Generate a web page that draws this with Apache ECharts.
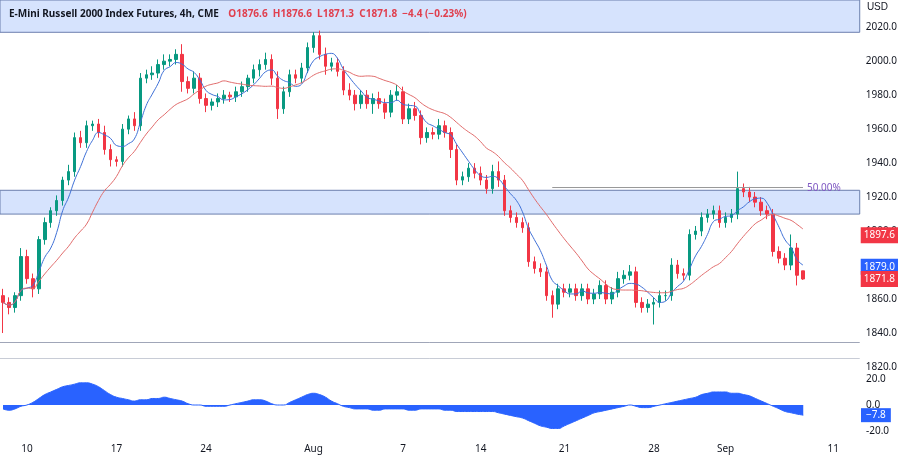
<!DOCTYPE html>
<html style="height: 100%">
<head>
  <meta charset="utf-8">
  <title>E-Mini Russell 2000 Index Futures, 4h</title>
</head>
<body style="height: 100%; margin: 0">
  <div id="container" style="height: 100%"></div>
  <script src="https://cdn.jsdelivr.net/npm/echarts@6/dist/echarts.min.js"></script>
  <script type="text/javascript">
    // closes per bar (roughly two 4h bars merged per candle)
    var closes = [1858,1855,1862,1885,1872,1866,1895,1905,1912,1918,
      1930,1935,1955,1952,1962,1963,1958,1948,1942,1941,
      1960,1966,1962,1990,1992,1993,1998,2000,2001,2004,
      1988,1984,1990,1978,1974,1976,1978,1980,1979,1982,
      1985,1990,1995,1998,2001,1990,1972,1982,1992,1990,
      1996,2008,2015,2004,1997,1999,1994,1983,1980,1975,
      1980,1975,1978,1975,1970,1980,1982,1966,1972,1968,
      1955,1958,1957,1962,1958,1948,1930,1932,1937,1934,
      1930,1925,1935,1930,1912,1908,1905,1902,1882,1878,
      1876,1862,1857,1866,1864,1866,1862,1866,1860,1863,
      1868,1860,1864,1872,1874,1876,1858,1855,1857,1858,
      1862,1862,1880,1875,1874,1898,1900,1908,1910,1912,
      1905,1908,1910,1925,1923,1920,1917,1912,1910,1888,
      1884,1880,1890,1874,1871.8];
    var firstOpen = 1862;
    // wick lengths above / below body
    var upWick = [4,3,2,5,4,3,2,3,2,3, 2,4,3,4,3,2,3,4,3,2, 3,2,4,3,3,4,3,4,3,3,
      6,3,4,3,3,2,3,3,2,3, 3,2,3,3,4,3,4,3,3,3, 3,3,2,3,4,3,3,3,4,3,
      3,3,3,4,3,3,4,3,3,4, 3,3,3,4,3,3,3,3,3,3, 4,3,4,6,3,3,3,3,3,3,
      3,3,3,3,3,3,3,3,3,3, 3,3,3,4,3,4,3,3,3,3, 3,3,4,3,3,3,3,3,3,3,
      3,3,3,10,3,3,3,3,3,3, 3,3,8,3,0];
    var dnWick = [18,4,3,3,3,5,3,3,3,3, 3,3,3,3,3,3,3,3,4,3, 3,3,3,3,3,3,3,3,3,3,
      6,3,3,3,4,3,3,3,3,3, 3,3,3,4,3,4,6,3,3,3, 3,3,3,3,5,3,3,3,3,4,
      3,3,6,3,4,3,3,3,3,3, 4,3,3,3,3,5,3,3,3,3, 3,3,3,4,3,3,3,3,3,3,
      3,3,8,3,3,3,3,3,3,3, 3,3,3,3,3,3,3,3,3,12, 3,3,3,3,3,3,3,3,3,3,
      3,3,3,3,3,3,3,3,3,3, 3,3,3,6,0.5];
    var osc = [-3,-4,-3,-1,0, 2,5,8,10,12, 14,15,16,17,17,16,14,
      11,8,6,5,4,3, 4,4,5,5,6,5,4, 3,1,0,0,-1,-1, -1,-1,0,1,2,3,
      4,4,3,1,0, 0,2,4,6,8,9,8, 6,3,1,-1,-2, -3,-3,-3,-4,-4,-3,-3,-3,
      -3,-4,-4,-3,-3,-3,-3,-4,-4, -5,-5,-5,-5,-5,-5,-5,-6,
      -7,-8,-9,-10,-12,-14,-16,-17,-18,-18, -16,-14,-12,-10,-8,-6,-5,-4,-3,-2,
      -1,0,-1,-2,-2,-1,0, 1,2,3,4,5,6,8, 9,10,10,10,9,9,8,7,5,
      3,1,-1,-3,-5,-6,-7,-7.8];
    var tickIdx = [4,19,34,52,67,80,94,109,121,139];
    var tickText = ['10','17','24','Aug','7','14','21','28','Sep','11'];
    var totalSlots = 144;

    var cats = [];
    for (var i = 0; i < totalSlots; i++) {
      var k = tickIdx.indexOf(i);
      cats.push(k >= 0 ? tickText[k] : 'b' + i);
    }
    var ohlc = [];
    for (var i = 0; i < closes.length; i++) {
      var o = i === 0 ? firstOpen : closes[i - 1];
      if (i === closes.length - 1) o = 1876.6;
      var c = closes[i];
      ohlc.push([o, c, Math.min(o, c) - dnWick[i], Math.max(o, c) + upWick[i]]);
    }
    function sma(n) {
      var out = [];
      for (var i = 0; i < closes.length; i++) {
        var m = Math.min(n, i + 1), s = 0;
        for (var j = i - m + 1; j <= i; j++) s += closes[j];
        out.push(+(s / m).toFixed(1));
      }
      return out;
    }
    var fast = sma(5), slow = sma(15);

    var UP = '#089981', DN = '#f23645', ZONE = 'rgba(200,218,252,0.75)', ZLINE = '#6b7fae';
    function priceTag(v, col) {
      return { yAxis: v, lineStyle: { width: 0, color: 'rgba(0,0,0,0)' },
        label: { show: true, position: 'end', formatter: v.toFixed(1), color: '#fff', backgroundColor: col,
          padding: [3, 3], fontSize: 10, distance: 1 } };
    }
    var dom = document.getElementById('container');
    var myChart = echarts.init(dom);
    var option = {
      animation: false,
      textStyle: { fontFamily: 'Noto Sans' },
      title: {
        left: 4, top: 0,
        text: '{a|E-Mini Russell 2000 Index Futures, 4h, CME}  {r|O1876.6  H1876.6  L1871.3  C1871.8  −4.4 (−0.23%)}',
        textStyle: { rich: { a: { fontSize: 10, color: '#131722' }, r: { fontSize: 10, color: '#e0404f' } } }
      },
      graphic: [{ type: 'text', right: 12, top: 2, style: { text: 'USD', fontSize: 10, fill: '#131722' } }],
      grid: [
        { left: 0, right: 40, top: 0, height: 367 },
        { left: 0, right: 40, top: 375, height: 60 }
      ],
      xAxis: [
        { type: 'category', data: cats, gridIndex: 0, boundaryGap: true, axisLine: { show: false }, axisTick: { show: false }, axisLabel: { show: false } },
        { type: 'category', data: cats, gridIndex: 1, boundaryGap: true, axisLine: { show: false }, axisTick: { show: false },
          axisLabel: { interval: 0, color: '#131722', fontSize: 10, margin: 9, formatter: function (v) { return v.charAt(0) === 'b' ? '' : v; } } }
      ],
      yAxis: [
        { gridIndex: 0, position: 'right', min: 1820, max: 2036, interval: 20, splitLine: { show: false },
          axisLine: { show: false }, axisTick: { show: false },
          axisLabel: { color: '#131722', fontSize: 10, margin: 6, showMaxLabel: false, formatter: function (v) { return v.toFixed(1); } } },
        { gridIndex: 1, position: 'right', min: -23, max: 23, splitLine: { show: false },
          axisLine: { show: false }, axisTick: { show: false },
          axisLabel: { color: '#131722', fontSize: 10, margin: 6, customValues: [20, 0, -20], formatter: function (v) { return v.toFixed(1); } } }
      ],
      series: [
        {
          type: 'candlestick', data: ohlc, barWidth: 3,
          itemStyle: { color: UP, color0: DN, borderColor: UP, borderColor0: DN },
          markArea: {
            silent: true,
            itemStyle: { color: ZONE, borderColor: ZLINE, borderWidth: 1 },
            data: [[{ yAxis: 2017 }, { yAxis: 2036 }], [{ yAxis: 1910 }, { yAxis: 1924 }]]
          },
          markLine: {
            silent: true, symbol: 'none',
            data: [
              [{ coord: [92, 1925.5], lineStyle: { color: '#999', width: 1, type: 'solid' } },
               { coord: [134, 1925.5], label: { show: true, position: 'end', formatter: '50.00%', color: '#7e57c2', fontSize: 10, distance: 4 } }],
              { yAxis: 1834.7, lineStyle: { color: '#a0a6b8', width: 1, type: 'solid' }, label: { show: false } },
              { yAxis: 1825.3, lineStyle: { color: '#c8ccd6', width: 1, type: 'solid' }, label: { show: false } },
              priceTag(1897.6, '#f23645'),
              priceTag(1879.0, '#2962ff'),
              priceTag(1871.8, '#f23645')
            ]
          }
        },
        { type: 'line', data: fast, symbol: 'none', smooth: true, lineStyle: { color: '#3d6fd6', width: 1 } },
        { type: 'line', data: slow, symbol: 'none', smooth: true, lineStyle: { color: '#e06a6a', width: 1 } },
        {
          type: 'line', data: osc, xAxisIndex: 1, yAxisIndex: 1, symbol: 'none', smooth: true,
          lineStyle: { color: '#2962ff', width: 1 }, areaStyle: { color: '#2962ff', opacity: 1 },
          markLine: { silent: true, symbol: 'none', data: [
            { yAxis: -7.8, lineStyle: { width: 0, color: 'rgba(0,0,0,0)' }, label: { show: true, position: 'end', formatter: '−7.8', color: '#fff',
              backgroundColor: '#2962ff', padding: [2, 5], fontSize: 10, distance: 1 } }
          ] }
        }
      ]
    };
    myChart.setOption(option);
  </script>
</body>
</html>
